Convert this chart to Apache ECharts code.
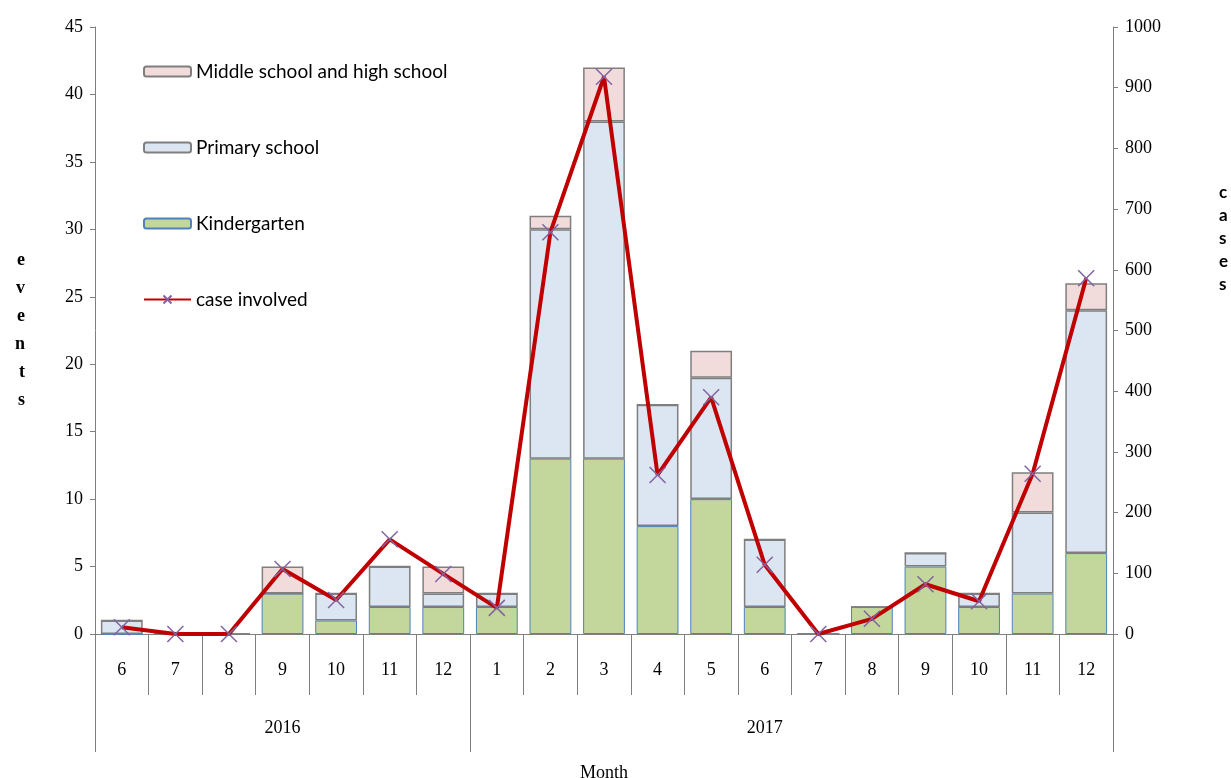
<!DOCTYPE html>
<html>
<head>
<meta charset="utf-8">
<script src="https://cdn.jsdelivr.net/npm/echarts@6/dist/echarts.min.js"></script>
<style>
html,body{margin:0;padding:0;background:#fff;}
#main{width:1231px;height:778px;}
</style>
</head>
<body>
<div id="main"></div>
<script>
// ---- data ----
var months = ['6','7','8','9','10','11','12','1','2','3','4','5','6','7','8','9','10','11','12'];
var yearLabels = ['2016', '2017'];
var yearBoundaries = [0, 7, 19];
var yearCenters = [3.5, 12.5];
var kindergarten = [0,0,0,3,1,2,2,2,13,13,8,10,2,0,2,5,2,3,6];
var primary      = [1,0,0,0,2,3,1,1,17,25,9,9,5,0,0,1,1,6,18];
var middleHigh   = [0,0,0,2,0,0,2,0,1,4,0,2,0,0,0,0,0,3,2];
var cases        = [11,0,0,107,56,156,99,43,662,918,262,390,114,0,25,82,54,264,586];

var serif = '"Liberation Serif", "DejaVu Serif", serif';
var sans = 'Lato, "Open Sans", sans-serif';
var gray = '#7f7f7f';
var NB = '\u00a0';

var chart = echarts.init(document.getElementById('main'));
chart.setOption({
  animation: false,
  backgroundColor: '#fff',
  grid: { left: 95, right: 118, top: 27, bottom: 144, containLabel: false, outerBoundsMode: 'none' },
  legend: {
    orient: 'vertical', left: 143, top: 62, padding: 0,
    itemWidth: 47, itemHeight: 10, itemGap: 57,
    textStyle: { fontFamily: sans, fontSize: 19, color: '#000' },
    data: ['Middle school and high school', 'Primary school', 'Kindergarten', 'case involved']
  },
  xAxis: [
    {
      type: 'category', data: months, position: 'bottom',
      axisLine: { show: true, lineStyle: { color: gray, width: 1 } },
      axisTick: { show: true, interval: 0, length: 61, lineStyle: { color: gray } },
      axisLabel: { margin: 27, interval: 0, fontFamily: serif, fontSize: 18, color: '#000' },
      splitLine: { show: false }
    },
    {
      type: 'value', min: 0, max: 19, position: 'bottom',
      axisLine: { show: false },
      axisTick: { show: true, customValues: yearBoundaries, length: 118, lineStyle: { color: gray } },
      axisLabel: {
        customValues: yearCenters, margin: 85, fontFamily: serif, fontSize: 18, color: '#000',
        formatter: function (v) { return v < yearBoundaries[1] ? yearLabels[0] : yearLabels[1]; }
      },
      splitLine: { show: false },
      name: 'Month', nameLocation: 'middle', nameGap: 130,
      nameTextStyle: { fontFamily: serif, fontSize: 18, color: '#000' }
    }
  ],
  yAxis: [
    {
      type: 'value', min: 0, max: 45, interval: 5, position: 'left',
      axisLine: { show: true, lineStyle: { color: gray } },
      axisTick: { show: true, length: 5, lineStyle: { color: gray } },
      axisLabel: { margin: 12, fontFamily: serif, fontSize: 18, color: '#000' },
      splitLine: { show: false },
      name: 'e\nv\ne\nn\nt\ns', nameLocation: 'middle', nameRotate: 0, nameGap: 70,
      nameTextStyle: { fontFamily: serif, fontWeight: 'bold', fontSize: 18, lineHeight: 28, color: '#000' }
    },
    {
      type: 'value', min: 0, max: 1000, interval: 100, position: 'right',
      axisLine: { show: true, lineStyle: { color: gray } },
      axisTick: { show: true, length: 5, lineStyle: { color: gray } },
      axisLabel: { margin: 12, fontFamily: serif, fontSize: 18, color: '#000',
        formatter: function (v) { return String(v); } },
      splitLine: { show: false },
      name: 'c\na\ns\ne\ns' + ('\n' + NB).repeat(8), nameLocation: 'middle', nameRotate: 0, nameGap: 106,
      nameTextStyle: { fontFamily: sans, fontWeight: 'bold', fontSize: 17, lineHeight: 23, color: '#000' }
    }
  ],
  series: [
    {
      name: 'Kindergarten', type: 'bar', stack: 'ev', xAxisIndex: 0, yAxisIndex: 0,
      barCategoryGap: '22%', data: kindergarten,
      itemStyle: { color: '#c3d69b', borderColor: '#4f81bd', borderWidth: 1 }
    },
    {
      name: 'Primary school', type: 'bar', stack: 'ev', xAxisIndex: 0, yAxisIndex: 0,
      barCategoryGap: '22%', data: primary,
      itemStyle: { color: '#dce6f2', borderColor: gray, borderWidth: 1.5 }
    },
    {
      name: 'Middle school and high school', type: 'bar', stack: 'ev', xAxisIndex: 0, yAxisIndex: 0,
      barCategoryGap: '22%', data: middleHigh,
      itemStyle: { color: '#f2dcdb', borderColor: gray, borderWidth: 1.5 }
    },
    {
      name: 'case involved', type: 'line', xAxisIndex: 0, yAxisIndex: 1, data: cases,
      z: 10,
      lineStyle: { color: '#c00000', width: 4 },
      symbol: 'path://M0,0L10,10M10,0L0,10', symbolSize: 16,
      itemStyle: { color: '#c00000', borderColor: '#8064a2', borderWidth: 1.5 }
    }
  ]
});
</script>
</body>
</html>
